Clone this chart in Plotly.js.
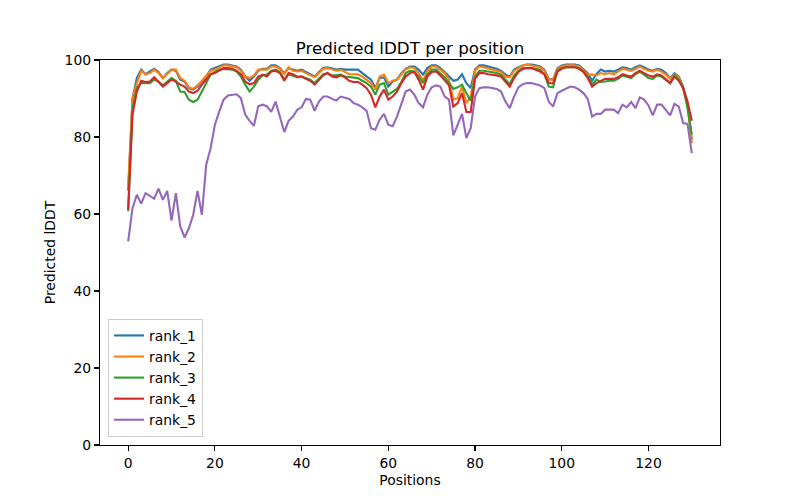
<!DOCTYPE html>
<html>
<head>
<meta charset="utf-8">
<script src="https://cdn.plot.ly/plotly-3.0.1.min.js"></script>
<style>html,body{margin:0;padding:0;background:#fff;}#chart{width:800px;height:500px;}</style>
</head>
<body>
<div id="chart"></div>
<script>
const seriesNames = ["rank_1", "rank_2", "rank_3", "rank_4", "rank_5"];
const seriesColors = ["#1f77b4", "#ff7f0e", "#2ca02c", "#d62728", "#9467bd"];
const xTicks = [0, 20, 40, 60, 80, 100, 120];
const yTicks = [0, 20, 40, 60, 80, 100];

const rank_1 = [66,90,95.3,97.5,96.3,96.9,97.7,96.9,95.3,96.6,97.5,97.2,94.9,94.4,92.7,92.3,93.1,94.4,95.7,97.5,
97.9,98.3,98.8,98.8,98.6,98.3,97.5,95.7,94.6,95.7,97.2,97.7,97.7,98.6,98.6,97.9,96.6,97.9,97.5,97.2,
97.5,96.9,96.3,95.7,96.9,97.9,98.1,97.7,97.5,97.7,97.5,97.5,97.5,97.5,96.6,95.7,94.9,92.7,95.3,95.5,
93.1,94.4,94.9,96.6,97.7,98.3,98.3,97.5,96.2,97.9,98.6,98.6,97.9,96.9,95.7,94.6,94.9,96.3,94.0,92.7,
97.5,98.6,98.6,98.3,98.1,97.7,97.2,96.2,95.7,97.5,98.1,98.6,98.8,98.8,98.6,98.3,97.5,95.1,94.9,97.9,
98.6,98.8,98.8,98.8,98.6,97.7,96.6,94.6,96.3,97.5,97.0,97.2,97.0,97.5,98.1,97.9,97.5,98.1,98.6,98.1,
97.5,97.2,97.7,97.5,96.6,95.3,96.6,95.7,93.1,88.8,79.3];
const rank_2 = [67,90,94,97.2,96.2,96.6,97.5,96.6,95.3,96.3,97.5,97.5,95.3,94.6,92.9,92.5,93.4,94.6,96.0,97.2,
97.5,98.1,98.6,98.6,98.4,98.1,97.2,95.7,95.3,96.0,97.5,97.5,97.5,98.3,98.3,97.7,96.3,98.1,97.2,97.0,
97.2,96.6,96.0,95.5,96.6,97.7,97.9,97.5,97.2,97.5,96.9,96.3,96.3,96.3,95.7,94.9,94.0,92.3,95.7,96.2,
94.0,94.6,94.9,96.3,97.5,98.1,97.9,96.6,94.6,97.2,98.3,98.3,97.5,96.6,94.9,89.7,90.1,93.1,88.8,90.5,
97.2,98.3,98.1,97.7,97.5,97.2,96.9,95.7,95.5,97.2,97.9,98.6,98.8,98.6,98.3,98.1,97.2,94.9,94.9,97.7,
98.3,98.6,98.6,98.6,98.3,97.2,96.2,96.2,96.0,96.6,96.3,96.6,96.3,97.0,97.7,97.5,97.2,97.7,98.3,97.7,
97.2,97.0,97.5,97.0,96.2,95.1,96.3,95.5,92.7,88.4,78.4];
const rank_3 = [60.7,87.5,92.7,94.0,94.0,94.0,94.9,94.4,93.4,94.3,95.3,94.6,91.8,91.7,89.7,89.1,89.7,91.8,94.0,96.2,
96.9,97.5,97.7,97.6,97.5,97.0,95.7,93.6,91.8,93.1,94.9,96.0,96.2,97.2,97.5,96.9,94.9,96.3,96.0,95.5,
95.7,95.3,94.9,94.0,95.1,96.3,96.6,96.0,96.0,96.2,95.7,95.5,95.3,95.3,94.6,94.0,93.1,91.0,93.6,94.0,
91.0,91.7,92.5,94.3,96.6,97.2,97.0,95.7,94.0,96.3,97.5,97.5,96.6,95.5,94.0,92.5,92.9,93.6,91.4,89.4,
95.7,97.2,97.2,97.0,96.9,96.6,96.2,94.9,93.7,96.0,97.2,97.9,97.9,97.9,97.7,97.5,96.3,93.1,92.9,97.2,
97.9,98.1,98.1,98.1,97.9,97.0,95.7,93.6,94.9,94.3,94.4,94.6,94.6,95.1,96.0,95.7,95.3,96.3,97.0,96.2,
95.3,95.1,96.0,95.7,94.9,94.0,96.0,94.9,92.7,87.5,80.6];
const rank_4 = [61.1,85.8,91.8,94.6,94.3,94.4,95.5,94.4,93.1,94.0,94.9,94.4,93.6,93.1,91.8,91.4,92.0,93.6,95.1,96.3,
96.6,97.2,97.9,97.9,97.7,97.2,96.3,94.4,93.7,94.0,95.7,96.2,95.7,97.0,97.2,96.6,94.6,96.6,96.3,95.7,
95.7,95.1,94.6,93.6,94.9,96.0,96.6,95.7,95.5,96.0,95.5,94.6,94.3,94.3,93.6,92.7,91.0,87.7,90.5,92.3,
89.7,90.5,91.8,94.0,95.7,96.6,96.9,94.9,92.3,95.7,96.9,97.0,96.0,94.6,93.4,87.9,88.8,91.4,86.5,86.5,
95.1,96.6,96.6,96.3,96.2,96.0,95.7,94.3,93.1,95.3,96.9,97.7,97.9,97.9,97.5,97.0,96.3,94.0,93.9,97.0,
97.7,98.1,98.1,98.1,97.7,96.9,95.3,93.1,94.0,94.6,95.1,95.1,95.1,95.5,96.3,96.0,95.7,96.6,97.2,96.6,
96.0,95.7,96.3,96.0,95.1,94.0,95.7,94.6,92.7,89.2,84.2];
const rank_5 = [52.9,61.5,65.0,62.7,65.4,64.6,64.0,66.6,63.7,66.0,58.3,65.4,56.8,53.9,56.3,59.8,66.0,59.8,72.8,77.0,
83.2,86.6,89.7,90.8,91.0,91.1,90.1,85.8,84.2,82.9,88.0,88.4,88.0,86.5,89.2,85.3,81.3,84.2,85.3,87.1,
87.7,89.9,89.7,86.8,89.2,90.5,90.5,89.9,89.5,90.5,90.3,89.9,88.8,88.4,87.7,86.8,82.3,81.9,84.5,86.0,
83.2,82.8,85.3,88.8,91.8,92.3,91.0,88.8,87.7,91.0,92.9,93.4,93.1,90.5,89.7,80.4,83.2,86.0,79.7,82.3,
90.5,92.7,92.9,92.9,92.7,92.5,91.8,89.2,87.5,90.5,92.9,93.7,94.0,94.0,93.7,93.4,92.7,89.2,87.9,91.4,
92.0,92.5,93.1,92.9,92.3,91.4,89.9,85.3,86.0,86.0,87.1,87.1,87.1,86.2,88.4,87.7,89.1,87.5,90.3,89.7,
88.2,85.6,88.4,88.4,87.1,85.6,88.6,87.9,83.6,83.4,75.8];

const allSeries = [rank_1, rank_2, rank_3, rank_4, rank_5];
const positions = rank_1.map((_, i) => i);

const traces = allSeries.map((vals, k) => ({
  x: positions,
  y: vals,
  type: 'scatter',
  mode: 'lines',
  name: seriesNames[k],
  line: {color: seriesColors[k], width: 2.1}
}));

const font = {family: 'DejaVu Sans, sans-serif', size: 13.9, color: '#000'};
const layout = {
  width: 800, height: 500,
  margin: {l: 100, r: 80, t: 60, b: 55, pad: 0},
  paper_bgcolor: '#fff', plot_bgcolor: '#fff',
  font: font,
  title: {text: 'Predicted lDDT per position', font: {family: 'DejaVu Sans, sans-serif', size: 16.7, color: '#000'},
          x: 0.5, xref: 'paper', xanchor: 'center', y: 1, yref: 'paper', yanchor: 'bottom', pad: {b: 6}},
  xaxis: {
    range: [-6.5, 136.5], tickvals: xTicks, ticktext: xTicks.map(String),
    showgrid: false, zeroline: false, showline: true, mirror: true, linecolor: '#000', linewidth: 1.1,
    ticks: 'outside', ticklen: 5, tickwidth: 1.1, tickcolor: '#000', tickfont: font,
    title: {text: 'Positions', font: font, standoff: 5}
  },
  yaxis: {
    range: [0, 100], tickvals: yTicks, ticktext: yTicks.map(String),
    showgrid: false, zeroline: false, showline: true, mirror: true, linecolor: '#000', linewidth: 1.1,
    ticks: 'outside', ticklen: 5, tickwidth: 1.1, tickcolor: '#000', tickfont: font,
    title: {text: 'Predicted lDDT', font: font, standoff: 5}
  },
  showlegend: true,
  legend: {
    x: 0.013, y: 0.021, xanchor: 'left', yanchor: 'bottom',
    bgcolor: 'rgba(255,255,255,0.8)', bordercolor: '#cccccc', borderwidth: 1,
    font: font, itemwidth: 30, tracegroupgap: 0
  }
};

Plotly.newPlot('chart', traces, layout, {displayModeBar: false, staticPlot: true});
</script>
</body>
</html>
